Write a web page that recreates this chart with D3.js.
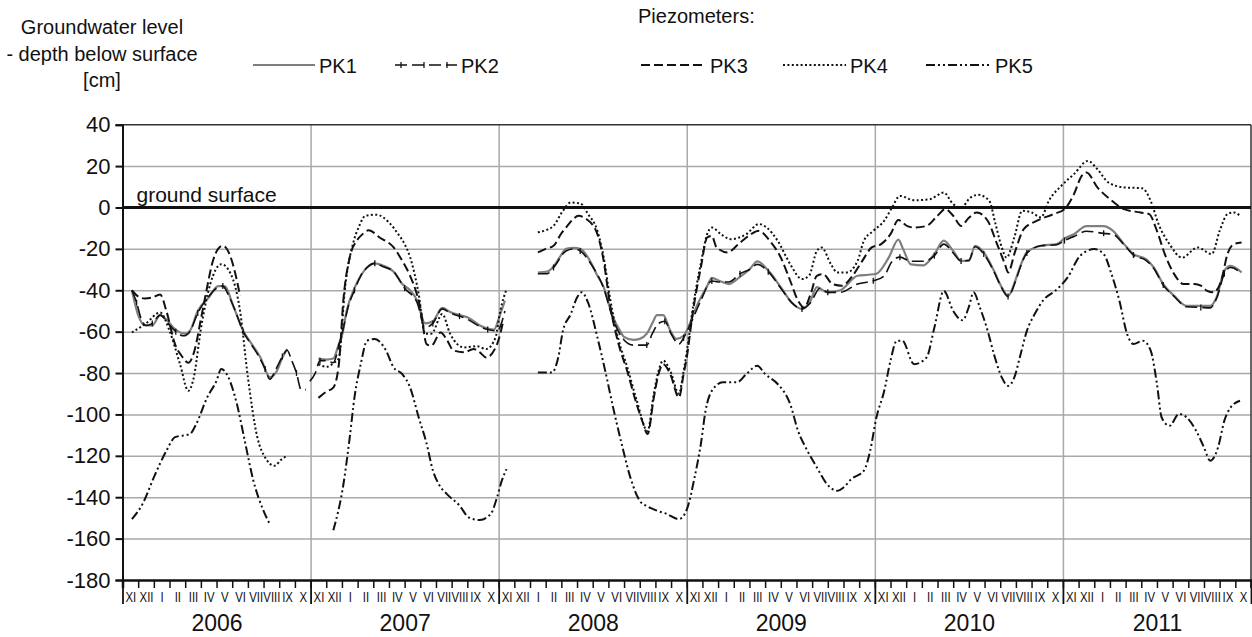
<!DOCTYPE html>
<html>
<head>
<meta charset="utf-8">
<script src="https://cdn.jsdelivr.net/npm/d3@7"></script>
<style>
  html, body { margin: 0; padding: 0; background: #ffffff; }
  svg { display: block; }
</style>
</head>
<body>
<div id="chart"></div>
<script>
// Groundwater level in piezometers PK1..PK5, hydrological years 2006-2011
// x = months since 1 Nov 2005, y = cm relative to ground surface

const YEARS = ['2006', '2007', '2008', '2009', '2010', '2011'];
const MONTHS = ['XI', 'XII', 'I', 'II', 'III', 'IV', 'V', 'VI', 'VII', 'VIII', 'IX', 'X'];
const Y_TICKS = [40, 20, 0, -20, -40, -60, -80, -100, -120, -140, -160, -180];

// null = gap in record
const pk1 = [
  [0.6,-40],[1.0,-52],[1.45,-57],[1.9,-57],[2.4,-52],[2.9,-55],[3.24,-58],[3.99,-61],[4.3,-59.6],[4.8,-50],
  [5.5,-43.5],[6.1,-38],[6.5,-38],[7.1,-48.3],[7.7,-59.6],[8.25,-66],[8.8,-72.5],[9.4,-82],[9.85,-79],[10.2,-72.5],[10.5,-68.4],
  null,
  [12.5,-73],[13.0,-73.5],[13.45,-73],[13.8,-66],[14.0,-62],[14.3,-50],[14.8,-39],[15.2,-33],[15.6,-29],[16.1,-27],
  [16.6,-28],[17.3,-31],[17.85,-37],[18.35,-40],[18.8,-45],[19.3,-56],[19.8,-55],[20.4,-48.5],[20.9,-50.5],[21.5,-52],
  [22.0,-53],[22.8,-57],[23.3,-58.5],[23.7,-59],[24.1,-51.5],[24.4,-45],
  null,
  [26.5,-31.5],[27.1,-31],[27.5,-28.5],[27.9,-24],[28.3,-20],[28.8,-19.5],[29.2,-20],[29.6,-23],[29.95,-27.5],[30.3,-33],
  [30.7,-38.5],[31.0,-46],[31.3,-53],[31.7,-59],[32.0,-62.5],[32.6,-64],[33.0,-63.5],[33.45,-61],[33.8,-56],[34.1,-52],
  [34.5,-52],[34.95,-59.5],[35.35,-63.5],[35.8,-62],[36.2,-56],[36.5,-50],[36.9,-43.5],[37.3,-38],[37.6,-34],[38.1,-35.5],
  [38.7,-37],[39.4,-33.5],[40.0,-30],[40.5,-26],[41.2,-30.5],[42.0,-38.5],[42.7,-46],[43.35,-49],[43.9,-45],[44.3,-38.5],
  [44.95,-41],[45.8,-40],[46.9,-33],[47.6,-32.5],[48.1,-32],[48.9,-24],[49.5,-15.5],[49.8,-20],[50.3,-27.5],[51.1,-28],
  [51.8,-22.5],[52.4,-16],[53.0,-21],[53.5,-25.8],[54.0,-25.8],[54.4,-18.5],[54.95,-21.7],[55.6,-30.6],[56.1,-38.6],[56.5,-42.7],
  [56.96,-35.4],[57.3,-28],[57.7,-21.7],[58.6,-18.5],[59.6,-17.7],[60.1,-15],[60.7,-12.9],[61.5,-9],[62.6,-9],[63.2,-11.3],
  [63.9,-17.7],[64.5,-22.5],[65.3,-25],[65.8,-29],[66.4,-37],[67.1,-42.7],[67.9,-47.5],[68.8,-47.5],[69.4,-47.5],[69.8,-43.5],
  [70.3,-30.6],[70.7,-28.2],[71.4,-31.4]
];

const pk2 = [
  [0.6,-40],[0.9,-46],[1.2,-54],[1.5,-57],[1.9,-56],[2.4,-52],[2.9,-56],[3.4,-60],[3.9,-62],[4.3,-60],[4.8,-51],
  [5.4,-44],[6.0,-39],[6.4,-38],[6.8,-43],[7.2,-50],[7.7,-60],[8.2,-66],[8.7,-72],[9.1,-78],[9.4,-83],[9.8,-78],
  [10.2,-72],[10.5,-69],[10.8,-74],[11.1,-80],[11.4,-88],[11.7,-88],
  null,
  [11.95,-84],[12.3,-80],[12.6,-74],[13.0,-74],[13.45,-75],[13.8,-67],[14.1,-58],[14.4,-48],[14.8,-40],[15.2,-33],
  [15.6,-29],[16.1,-27],[16.6,-28.5],[17.3,-31],[18.0,-39],[18.8,-46],[19.3,-58],[19.8,-56],[20.4,-49],[20.9,-51],
  [21.5,-52.5],[22.0,-54],[22.8,-57.5],[23.3,-59],[23.9,-59.6],[24.4,-50],
  null,
  [26.5,-32],[27.1,-32],[27.5,-29],[28.3,-21],[28.8,-20],[29.2,-21],[29.95,-28],[30.7,-39],[31.3,-54],[32.0,-64],
  [32.6,-66.5],[33.45,-66.5],[33.8,-61],[34.2,-56],[34.6,-55],[35.0,-61],[35.5,-66],[35.8,-63],[36.2,-57],[36.9,-45],
  [37.6,-35.5],[38.1,-36],[38.7,-36],[39.4,-32],[40.0,-30],[40.5,-27.5],[41.2,-31],[42.0,-39],[42.7,-46],[43.35,-49],
  [43.9,-46],[44.5,-39],[45.0,-41],[45.8,-41],[46.9,-37],[47.9,-35.4],[48.6,-33],[49.1,-26],[49.6,-24],[50.3,-26],
  [51.1,-26],[51.8,-23.3],[52.4,-17.7],[53.0,-22],[53.5,-25.8],[54.0,-25.5],[54.4,-19],[54.95,-22.5],[55.6,-31],[56.1,-39],
  [56.5,-43],[56.96,-36],[57.3,-28.5],[57.7,-22],[58.6,-18.5],[59.6,-18],[60.1,-16],[60.7,-14],[61.5,-11.5],[62.6,-12.5],
  [63.2,-13],[63.9,-18],[64.5,-23],[65.3,-25.5],[65.8,-29.5],[66.4,-37.5],[67.1,-43],[67.9,-48],[68.8,-48.3],[69.4,-48.5],
  [69.8,-44],[70.3,-32],[70.7,-29],[71.4,-32]
];

const pk3 = [
  [0.6,-40],[1.0,-43],[1.44,-44],[1.9,-43.5],[2.4,-42],[2.8,-50],[3.35,-66],[3.8,-72],[4.2,-75],[4.6,-69],
  [5.0,-54],[5.27,-43.5],[5.8,-25],[6.1,-20],[6.4,-18.5],[6.9,-24],[7.2,-32],[7.5,-42.7],
  null,
  [12.5,-92],[13.0,-89],[13.45,-87],[13.8,-76],[14.1,-44],[14.5,-24],[14.95,-16],[15.3,-13],[15.7,-11],[16.4,-14.5],
  [17.3,-19.3],[17.85,-25.8],[18.35,-33],[18.7,-40],[19.0,-48.3],[19.4,-66],[19.7,-66.8],[20.3,-60.4],[20.7,-64],[21.1,-69],
  [21.8,-70],[22.4,-68.4],[22.8,-70],[23.2,-72.5],[23.9,-66],[24.3,-54.7],
  null,
  [26.5,-21.7],[27.0,-20],[27.5,-18.5],[28.0,-12.5],[28.3,-9.7],[28.7,-6],[29.1,-4],[29.6,-5.6],[30.0,-8.5],[30.3,-12.9],
  [30.7,-25.8],[31.1,-46.7],[31.65,-66],[32.2,-79],[32.8,-95],[33.2,-104],[33.5,-109.5],[33.9,-91.8],[34.2,-80.5],[34.5,-75.7],
  [34.95,-80.5],[35.5,-91.8],[35.8,-80.5],[36.0,-72.5],[36.4,-50],[36.9,-29],[37.3,-14.5],[37.6,-13.7],[37.9,-19.3],[38.6,-21.7],
  [39.3,-17.7],[40.1,-12.9],[40.6,-11.3],[41.3,-16.1],[42.0,-24.2],[42.6,-35.4],[43.1,-45],[43.5,-48.3],[43.9,-41.9],[44.3,-33],
  [44.7,-32.2],[45.3,-37],[45.9,-37.8],[46.5,-33.8],[47.2,-25.8],[47.8,-19.3],[48.4,-17.7],[49.0,-12.9],[49.5,-6.1],[50.05,-8.9],
  [50.5,-9.7],[51.3,-8.9],[52.0,-4],[52.5,-0.8],[53.0,-4],[53.5,-8.9],[54.0,-5],[54.5,-2.4],[55.2,-6.4],[55.8,-17.7],
  [56.3,-27.4],[56.5,-31.4],[56.96,-21],[57.5,-10.5],[58.35,-6.4],[59.4,-3.2],[60.1,-0.8],[60.7,6.4],[61.2,15.3],[61.5,16.9],
  [62.2,9.7],[63.0,4],[63.9,-0.8],[64.95,-2.4],[65.5,-3.2],[66.0,-11.3],[66.5,-22.5],[67.1,-32.2],[67.7,-37],[68.4,-37],
  [68.8,-37.8],[69.2,-40.3],[69.6,-41],[70.1,-35.4],[70.5,-22.5],[70.9,-17.7],[71.4,-16.9]
];

const pk4 = [
  [0.6,-60.4],[1.5,-56],[2.4,-50.7],[3.0,-59.6],[3.67,-75.7],[4.2,-88.6],[4.5,-83.7],[5.05,-56.4],[5.6,-37],[6.3,-27.4],
  [6.9,-32],[7.5,-50],[8.0,-82],[8.6,-111],[9.1,-120.8],[9.7,-124.8],[10.1,-122],[10.5,-120],
  null,
  [12.5,-75.7],[13.0,-77],[13.5,-75],[13.8,-73],[14.2,-38.6],[14.7,-17.7],[15.1,-9],[15.5,-4],[16.2,-3.5],[17.0,-7.2],
  [17.6,-13],[18.0,-17.7],[18.35,-24],[18.9,-42],[19.3,-61],[19.7,-61],[20.4,-51.5],[20.9,-61],[21.8,-67.6],[22.6,-67],
  [23.2,-68.4],[23.8,-62.8],[24.1,-50],[24.5,-39.5],
  null,
  [26.5,-12],[27.0,-11],[27.5,-8.9],[28.1,-1.6],[28.6,2.4],[29.2,2],[29.7,-3.2],[30.3,-11.3],[30.7,-24],[31.1,-43.5],
  [31.65,-64],[32.2,-77],[32.8,-93],[33.5,-108],[33.9,-90],[34.2,-79],[34.5,-74],[34.95,-79],[35.5,-90],[35.8,-79],
  [36.0,-70],[36.4,-48],[36.9,-27],[37.3,-13],[37.6,-9.7],[38.2,-13],[38.8,-15.3],[39.8,-12.9],[40.6,-8],[41.1,-9.7],
  [41.8,-16.1],[42.6,-27.4],[43.35,-34.6],[43.8,-33],[44.3,-21],[44.6,-19.3],[45.2,-27.4],[45.6,-31.4],[46.2,-31.4],[46.9,-25.8],
  [47.3,-16.1],[47.9,-11.3],[48.6,-6.4],[49.1,0],[49.6,5.6],[50.5,3.5],[51.5,4],[52.4,7.2],[53.0,1.6],[53.5,0],
  [54.1,4.8],[54.6,6.1],[55.3,3.2],[55.7,-8],[56.1,-19.3],[56.4,-24.2],[56.9,-14.5],[57.4,-1.6],[58.0,-2.4],[58.6,-4.8],
  [59.1,3.2],[59.9,10.5],[60.7,16.1],[61.6,22.5],[62.2,18.5],[62.9,12.1],[63.9,9.7],[65.05,9.3],[65.6,3.2],[66.1,-8],
  [66.8,-17.7],[67.6,-24.2],[68.6,-19.3],[69.5,-22.5],[70.0,-11.3],[70.5,-3.2],[70.9,-2.4],[71.3,-4]
];

const pk5 = [
  [0.6,-150.6],[1.33,-142.5],[2.0,-130.4],[2.8,-117.6],[3.35,-111],[4.3,-109.5],[4.7,-104.7],[5.4,-91.8],[6.0,-83.7],[6.3,-78],
  [6.75,-82],[7.3,-95],[7.8,-112.7],[8.35,-132],[9.0,-146.6],[9.4,-153],
  null,
  [13.45,-156],[14.1,-133.5],[14.5,-111],[14.8,-91.8],[15.2,-75.7],[15.6,-64.4],[16.1,-63.6],[16.8,-69],[17.3,-77.3],[17.85,-80.5],
  [18.35,-87],[18.9,-101.5],[19.4,-114],[19.8,-127],[20.2,-134],[20.7,-138.5],[21.5,-144],[22.1,-149.8],[22.8,-151],[23.5,-148],
  [23.9,-140],[24.2,-132],[24.5,-126.4],
  null,
  [26.5,-79.7],[27.4,-79.7],[27.8,-72.5],[28.1,-59.6],[28.6,-51.5],[29.0,-43.5],[29.3,-41],[29.7,-45.9],[30.3,-62.8],[30.8,-79],
  [31.3,-96.6],[31.85,-114.3],[32.4,-130.4],[33.0,-141.7],[33.5,-144.5],[34.1,-146.5],[34.7,-148],[35.5,-150.6],[36.0,-146],[36.5,-130.4],
  [36.9,-114.3],[37.2,-98.2],[37.6,-88.6],[38.3,-84.5],[39.2,-84.5],[39.8,-80.5],[40.5,-76.5],[41.0,-80.5],[41.8,-85.3],[42.6,-95],
  [43.1,-107.9],[43.7,-117.6],[44.3,-125.6],[44.95,-133.7],[45.6,-136.9],[46.0,-135.3],[46.5,-131.2],[47.3,-127.2],[47.7,-117.6],[48.1,-101.5],
  [48.6,-88.6],[49.0,-74],[49.4,-64.4],[49.75,-64.4],[50.5,-75.7],[51.3,-72.5],[51.8,-58],[52.4,-40.3],[53.0,-50],[53.6,-54.5],
  [54.0,-48],[54.3,-41],[54.7,-48.3],[55.2,-59.6],[55.6,-70.9],[56.1,-82.1],[56.5,-86.2],[56.9,-82.1],[57.3,-70.9],[57.7,-59.6],
  [58.2,-51.5],[58.8,-44.3],[59.5,-40.3],[60.3,-33.8],[61.1,-23.3],[62.0,-20.1],[62.6,-22.5],[63.1,-32.2],[63.6,-45],[64.1,-61.2],
  [64.5,-66],[65.1,-64.4],[65.6,-69.2],[66.0,-85.3],[66.3,-101.5],[66.8,-105.5],[67.4,-99.8],[67.9,-101.5],[68.5,-107.9],[69.0,-115.9],
  [69.4,-122.4],[69.9,-115.9],[70.3,-103],[70.7,-96.6],[71.3,-93.4]
];

const SERIES = [
  { name: 'PK1', data: pk1, color: '#7f7f7f', width: 2.2, dash: null },
  { name: 'PK2', data: pk2, color: '#111', width: 1.6, dash: '12,5', ticks: true },
  { name: 'PK3', data: pk3, color: '#111', width: 2, dash: '9,4' },
  { name: 'PK4', data: pk4, color: '#111', width: 2, dash: '2,2.4' },
  { name: 'PK5', data: pk5, color: '#111', width: 2, dash: '9,3,2,3,2,3' }
];

const FONT = "'Liberation Sans', Arial, sans-serif";
const GRID = '#a9a9a9';
const INK = '#111';

const W = 1252, H = 637;
const margin = { top: 124.7, right: 1, bottom: 57, left: 122.5 };
const width = W - margin.left - margin.right;
const height = H - margin.top - margin.bottom;

const svg = d3.select('#chart').append('svg')
  .attr('width', W).attr('height', H)
  .style('font-family', FONT);

svg.append('rect').attr('width', W).attr('height', H).attr('fill', '#fff');

const g = svg.append('g').attr('transform', `translate(${margin.left},${margin.top})`);

const x = d3.scaleLinear().domain([0, 72]).range([0, width]);
const y = d3.scaleLinear().domain([-180, 40]).range([height, 0]);

// horizontal gridlines
g.append('g')
  .call(d3.axisLeft(y).tickValues(Y_TICKS.filter(v => v !== 0 && v !== 40 && v !== -180)).tickSize(-width).tickFormat(''))
  .call(gr => gr.select('.domain').remove())
  .call(gr => gr.selectAll('line').attr('stroke', GRID).attr('stroke-width', 1.5));

// year separators
g.append('g')
  .call(d3.axisBottom(x).tickValues(d3.range(12, 72, 12)).tickSize(height).tickFormat(''))
  .call(gr => gr.select('.domain').remove())
  .call(gr => gr.selectAll('line').attr('stroke', GRID).attr('stroke-width', 1.5));

// top + right frame
g.append('line').attr('x1', 0).attr('x2', width).attr('y1', 0).attr('y2', 0)
  .attr('stroke', '#333').attr('stroke-width', 1.5);
g.append('line').attr('x1', width).attr('x2', width).attr('y1', 0).attr('y2', height)
  .attr('stroke', '#333').attr('stroke-width', 1.5);

// ground surface
g.append('line').attr('x1', 0).attr('x2', width).attr('y1', y(0)).attr('y2', y(0))
  .attr('stroke', INK).attr('stroke-width', 3);
g.append('text')
  .attr('x', 14).attr('y', y(0) - 5)
  .style('font-size', '21px').attr('fill', INK)
  .text('ground surface');

// series
const line = d3.line()
  .defined(d => d !== null)
  .x(d => x(d[0]))
  .y(d => y(d[1]))
  .curve(d3.curveMonotoneX);

SERIES.forEach(s => {
  g.append('path')
    .datum(s.data)
    .attr('fill', 'none')
    .attr('stroke', s.color)
    .attr('stroke-width', s.width)
    .attr('stroke-dasharray', s.dash)
    .attr('stroke-linejoin', 'round')
    .attr('d', line);

  if (s.ticks) {
    g.selectAll(null)
      .data(s.data.filter((d, i) => d !== null && i % 3 === 1))
      .join('line')
      .attr('x1', d => x(d[0])).attr('x2', d => x(d[0]))
      .attr('y1', d => y(d[1]) - 3).attr('y2', d => y(d[1]) + 3)
      .attr('stroke', s.color).attr('stroke-width', 1.3);
  }
});

// y axis
const yAxis = g.append('g')
  .call(d3.axisLeft(y).tickValues(Y_TICKS).tickSize(7).tickPadding(5).tickFormat(d3.format('d')));
yAxis.select('.domain').attr('stroke', INK).attr('stroke-width', 2);
yAxis.selectAll('line').attr('stroke', INK).attr('stroke-width', 2);
yAxis.selectAll('text').style('font-size', '22px').style('font-family', FONT).attr('fill', INK)
  .text(d => d < 0 ? '-' + Math.abs(d) : d);

// x axis: month ticks
const xMonth = g.append('g').attr('transform', `translate(0,${height})`)
  .call(d3.axisBottom(x).tickValues(d3.range(0, 73)).tickSize(8).tickFormat(''));
xMonth.select('.domain').attr('stroke', INK).attr('stroke-width', 2.5);
xMonth.selectAll('line').attr('stroke', INK).attr('stroke-width', 1.5);

// year boundary ticks (longer)
const xYearTick = g.append('g').attr('transform', `translate(0,${height})`)
  .call(d3.axisBottom(x).tickValues(d3.range(0, 73, 12)).tickSize(24).tickFormat(''));
xYearTick.select('.domain').remove();
xYearTick.selectAll('line').attr('stroke', INK).attr('stroke-width', 1.8);

// month labels (horizontally condensed like the original narrow face)
const monthPos = d3.range(72).map(i => i + 0.5);
const xMonthLab = g.append('g').attr('transform', `translate(0,${height})`)
  .call(d3.axisBottom(x).tickValues(monthPos).tickSize(0).tickPadding(11)
    .tickFormat((d, i) => MONTHS[i % 12]));
xMonthLab.select('.domain').remove();
xMonthLab.selectAll('text').style('font-size', '15px').style('font-family', FONT).attr('fill', INK)
  .attr('transform', 'scale(0.76,1)');

// year labels
const xYearLab = g.append('g').attr('transform', `translate(0,${height})`)
  .call(d3.axisBottom(x).tickValues(YEARS.map((d, i) => i * 12 + 6)).tickSize(0).tickPadding(35)
    .tickFormat((d, i) => YEARS[i]));
xYearLab.select('.domain').remove();
xYearLab.selectAll('text').style('font-size', '23px').style('font-family', FONT).attr('fill', INK);

// y axis title
const yTitle = svg.append('text').attr('text-anchor', 'middle')
  .style('font-size', '20px').attr('fill', INK);
[['Groundwater level', 34], ['- depth below surface', 61], ['[cm]', 87]].forEach(([t, yy]) => {
  yTitle.append('tspan').attr('x', 102).attr('y', yy).text(t);
});

// legend
svg.append('text').attr('x', 638).attr('y', 23)
  .style('font-size', '20px').attr('fill', INK).text('Piezometers:');

const LEGEND_X = [[253, 315], [395, 457], [641, 706], [783, 846], [926, 991]];
const LEGEND_Y = 65;
SERIES.forEach((s, i) => {
  const [x1, x2] = LEGEND_X[i];
  svg.append('line')
    .attr('x1', x1).attr('x2', x2).attr('y1', LEGEND_Y).attr('y2', LEGEND_Y)
    .attr('stroke', s.color).attr('stroke-width', s.width)
    .attr('stroke-dasharray', s.dash);
  if (s.ticks) {
    [x1 + 6, x1 + 29, x1 + 52].forEach(tx => {
      svg.append('line').attr('x1', tx).attr('x2', tx)
        .attr('y1', LEGEND_Y - 3).attr('y2', LEGEND_Y + 3)
        .attr('stroke', s.color).attr('stroke-width', 1.3);
    });
  }
  svg.append('text').attr('x', x2 + 4).attr('y', LEGEND_Y + 8)
    .style('font-size', '20px').attr('fill', INK).text(s.name);
});
</script>
</body>
</html>
